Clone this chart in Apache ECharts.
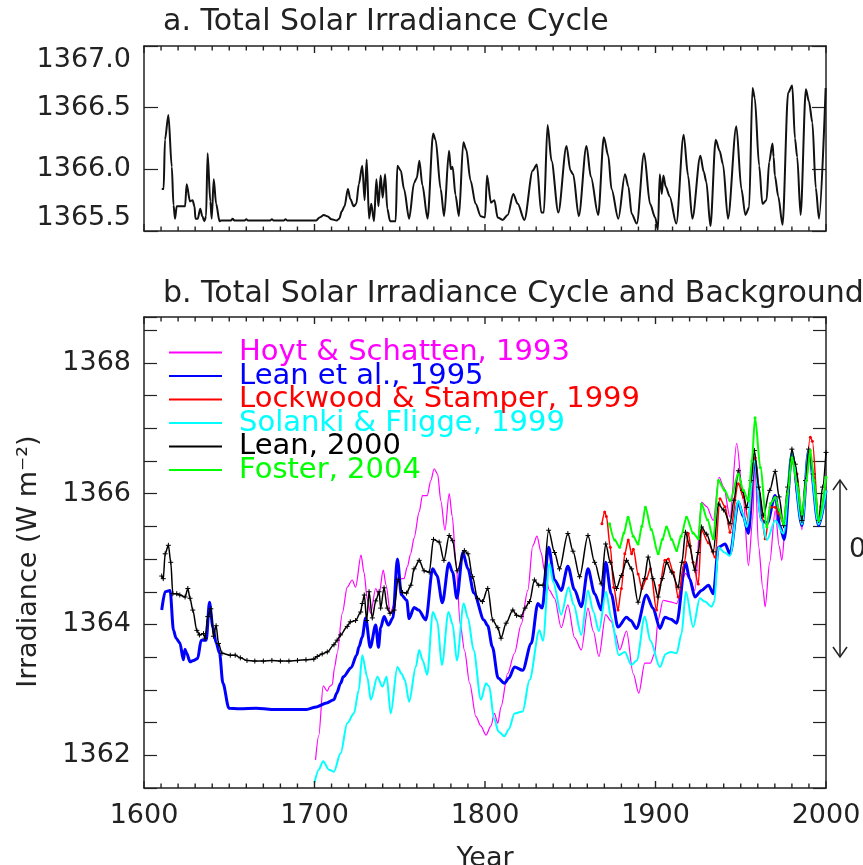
<!DOCTYPE html>
<html>
<head>
<meta charset="utf-8">
<script src="https://cdn.jsdelivr.net/npm/echarts@6/dist/echarts.min.js"></script>
<style>html,body{margin:0;padding:0;background:#fff}#c{width:863px;height:865px}</style>
</head>
<body>
<div id="c"></div>
<script>
// ---------- DATA ----------
const xTicks = [1600, 1700, 1800, 1900, 2000];
const topTicks = [1365.5, 1366.0, 1366.5, 1367.0];
const bottomTickLabels = [1362, 1364, 1366, 1368];
const seriesNames = ['Hoyt & Schatten, 1993', 'Lean et al., 1995', 'Lockwood & Stamper, 1999', 'Solanki & Fligge, 1999', 'Lean, 2000', 'Foster, 2004'];

// Panel a: total solar irradiance cycle [year, W m-2]
const tsiCycle = [[1610.4,1365.84],[1611.5,1365.84],[1612.3,1366.24],[1614.3,1366.44],[1616.3,1366.02],[1617.3,1365.71],[1618.2,1365.60],[1619.2,1365.70],[1624.1,1365.70],[1625,1365.88],[1627,1365.74],[1628.5,1365.75],[1629.6,1365.70],[1630.2,1365.60],[1631.5,1365.60],[1633,1365.68],[1634.2,1365.62],[1635.4,1365.58],[1636.4,1365.62],[1637.3,1366.13],[1638.9,1365.74],[1639.7,1365.60],[1640.9,1365.92],[1642.3,1365.72],[1644.3,1365.58],[1645,1365.585],[1651,1365.585],[1652,1365.60],[1653,1365.585],[1659,1365.585],[1660,1365.595],[1661,1365.585],[1674,1365.585],[1675,1365.595],[1676,1365.585],[1682,1365.585],[1683,1365.595],[1684,1365.585],[1701,1365.585],[1703,1365.61],[1705.5,1365.63],[1707.5,1365.62],[1710,1365.595],[1713,1365.585],[1714.5,1365.60],[1716,1365.66],[1717.6,1365.70],[1719.6,1365.84],[1721,1365.76],[1723,1365.70],[1724.5,1365.72],[1726,1365.88],[1728,1366.03],[1729.4,1365.75],[1730.6,1366.08],[1732,1365.60],[1733.3,1365.72],[1734.9,1365.58],[1736.3,1365.92],[1737.5,1365.70],[1738.8,1365.95],[1740,1365.77],[1741.4,1365.96],[1742.7,1365.68],[1744.3,1365.58],[1747.6,1365.58],[1748.6,1366.03],[1750.6,1365.99],[1752.5,1365.84],[1755.5,1365.60],[1758.4,1365.89],[1760,1365.93],[1761.5,1366.07],[1763.3,1365.87],[1766.3,1365.60],[1769.6,1366.29],[1771,1366.24],[1774,1365.84],[1776,1365.62],[1778.9,1366.15],[1780,1366.00],[1781,1366.02],[1782.7,1365.79],[1784.7,1365.62],[1787.3,1366.22],[1789,1366.16],[1791.5,1365.91],[1794.5,1365.72],[1797.5,1365.62],[1800,1365.61],[1801.2,1365.95],[1803.5,1365.73],[1805.5,1365.75],[1807.4,1365.61],[1810.4,1365.59],[1813.3,1365.63],[1816.6,1365.80],[1819.2,1365.72],[1823.1,1365.59],[1828,1365.99],[1830.4,1366.04],[1833,1365.65],[1834.5,1365.65],[1836.7,1366.36],[1839,1366.07],[1843,1365.65],[1847.8,1366.19],[1850.1,1365.99],[1851.7,1365.96],[1855,1365.62],[1859.5,1366.19],[1862.1,1365.94],[1866.4,1365.63],[1869.7,1366.26],[1872.3,1366.11],[1874.2,1365.84],[1878.2,1365.60],[1882.1,1365.96],[1884.1,1365.86],[1886,1365.64],[1889,1365.56],[1893.3,1366.13],[1896.8,1365.72],[1899.8,1365.61],[1901.4,1365.51],[1902.5,1365.96],[1903.7,1365.80],[1904.6,1365.95],[1906,1365.86],[1908.3,1365.78],[1912.2,1365.56],[1916.5,1366.28],[1919.1,1365.95],[1921.6,1365.60],[1926.3,1366.11],[1928.3,1365.98],[1929.8,1365.90],[1932.2,1365.54],[1935.3,1366.24],[1937.6,1366.15],[1939.6,1366.04],[1942.5,1365.60],[1947.4,1366.35],[1950.4,1365.84],[1952.7,1365.63],[1954.9,1365.69],[1956.9,1366.66],[1958.2,1366.58],[1960.8,1366.03],[1962.7,1365.72],[1965.1,1365.75],[1966.7,1366.06],[1968.6,1366.21],[1969.3,1366.10],[1970,1365.95],[1972,1365.78],[1974.5,1365.55],[1977.8,1366.62],[1980.2,1366.68],[1981.8,1366.25],[1983.1,1366.10],[1985.1,1365.63],[1988.2,1366.65],[1990,1366.55],[1992,1366.38],[1994,1365.85],[1995.9,1365.60],[1999.8,1366.66]];

// Panel b reconstructions [year, W m-2]
const hoyt1993 = [[1700.6,1361.93],[1702.5,1362.30],[1705.1,1363.06],[1707.5,1362.98],[1708.8,1363.05],[1710.4,1363.08],[1711.8,1363.35],[1713.3,1363.56],[1716.3,1364.17],[1719.2,1364.57],[1722.1,1364.68],[1724.1,1364.57],[1727.3,1365.06],[1729,1364.80],[1731,1364.38],[1732.9,1364.17],[1735.9,1364.55],[1737.8,1364.45],[1740.3,1364.83],[1742,1364.60],[1744.5,1364.16],[1746.5,1364.30],[1748.6,1364.90],[1750.5,1364.70],[1752.5,1364.70],[1754.4,1364.88],[1756.4,1365.08],[1758.4,1365.32],[1761.4,1365.72],[1763.3,1365.97],[1766.1,1365.97],[1768.2,1366.20],[1770.2,1366.38],[1772.2,1366.30],[1774.1,1365.89],[1776.5,1365.44],[1779,1366.00],[1780.8,1365.65],[1782.9,1364.98],[1785.5,1364.00],[1788,1363.60],[1791,1363.10],[1794.7,1362.59],[1797.5,1362.45],[1800.6,1362.31],[1803.5,1362.45],[1805.5,1362.64],[1807.5,1362.49],[1809.4,1362.74],[1813.3,1363.25],[1817.3,1363.56],[1821.2,1364.00],[1825.1,1364.52],[1828,1365.20],[1830.5,1365.35],[1832.9,1365.10],[1834.9,1364.83],[1837.8,1364.52],[1840.8,1364.40],[1844.7,1363.95],[1848.6,1364.30],[1852.5,1363.80],[1856.5,1363.61],[1860.4,1364.25],[1863.5,1363.90],[1866.8,1363.51],[1870.8,1364.15],[1874,1364.05],[1876.5,1363.85],[1879,1363.61],[1883,1363.90],[1886.9,1363.25],[1890.2,1362.95],[1893.7,1363.41],[1897,1363.41],[1899.6,1363.56],[1901.5,1364.07],[1904.5,1364.37],[1908,1364.35],[1912.4,1364.32],[1917.6,1364.78],[1920,1364.70],[1923.1,1364.52],[1927,1365.87],[1930,1365.80],[1933.9,1365.59],[1937.3,1366.25],[1940,1366.10],[1943.7,1365.64],[1947.6,1366.77],[1951.5,1365.90],[1954.5,1364.90],[1957,1365.60],[1958.3,1366.53],[1960.4,1365.20],[1963,1364.55],[1964.3,1364.27],[1967,1364.95],[1970.2,1365.74],[1972.5,1365.20],[1974.1,1364.98],[1976.5,1365.60],[1980.5,1366.62],[1983,1365.95],[1985.9,1365.45],[1989.8,1366.70],[1992,1366.20]];

const lean1995 = [[1610.4,1364.22],[1612.4,1364.50],[1615.3,1364.52],[1617.3,1363.91],[1618.8,1363.79],[1621,1363.72],[1623.1,1363.46],[1624,1363.62],[1625,1363.56],[1627,1363.43],[1629,1363.45],[1631.5,1363.48],[1633.5,1363.76],[1636.5,1363.76],[1638.4,1364.34],[1640.4,1363.96],[1642.3,1363.72],[1644.3,1363.56],[1646.3,1363.10],[1649.8,1362.72],[1656.1,1362.71],[1665.9,1362.72],[1675,1362.70],[1685.5,1362.70],[1695.3,1362.70],[1701.2,1362.74],[1707.1,1362.80],[1711.4,1362.85],[1713,1362.95],[1715.3,1363.10],[1716.9,1363.20],[1721.5,1363.34],[1724.7,1363.53],[1726.1,1363.66],[1728,1363.81],[1730,1364.10],[1732.7,1363.65],[1735.9,1363.99],[1737.5,1363.65],[1738.8,1363.95],[1740.8,1364.12],[1743.3,1363.99],[1746,1364.10],[1748.6,1365.00],[1751,1364.45],[1754.1,1364.37],[1755.5,1364.09],[1758.4,1364.26],[1761,1364.22],[1765.3,1364.07],[1769.3,1364.85],[1771.8,1364.75],[1775,1364.33],[1778.8,1364.94],[1781,1364.80],[1783.5,1364.40],[1787,1365.10],[1790,1364.85],[1793.5,1364.48],[1799.4,1364.07],[1801.6,1363.98],[1804.3,1363.66],[1807.7,1363.18],[1811.4,1363.10],[1814,1363.18],[1817.3,1363.35],[1822.1,1363.30],[1827.1,1363.71],[1831,1364.32],[1833.5,1364.25],[1837.3,1365.18],[1840.8,1364.68],[1844.7,1364.52],[1848.6,1364.89],[1852.5,1364.53],[1856.5,1364.27],[1860.4,1364.85],[1864.3,1364.47],[1868.2,1364.22],[1870.8,1364.95],[1874,1364.47],[1878,1363.96],[1883,1364.11],[1885.5,1364.06],[1888.8,1363.94],[1894.7,1364.45],[1898.5,1364.25],[1902.6,1363.94],[1905.5,1364.11],[1909,1364.08],[1912.4,1364.02],[1917.6,1364.95],[1920,1364.70],[1923.1,1364.42],[1927,1364.52],[1931.1,1364.60],[1933.9,1364.47],[1936.9,1365.18],[1940.8,1365.23],[1943.7,1365.08],[1948.6,1365.87],[1951.5,1365.65],[1954.5,1365.39],[1958,1366.53],[1962.4,1365.59],[1965.5,1365.55],[1970.2,1365.97],[1973,1365.50],[1975.5,1365.30],[1980,1366.61],[1985.9,1365.51],[1989.8,1366.66],[1995.7,1365.51],[2000,1366.05]];

const lockwood1999 = [[1868.6,1365.54],[1870.2,1365.72],[1871.2,1365.65],[1873.5,1365.18],[1875.5,1364.57],[1878,1364.22],[1880,1364.55],[1882,1365.08],[1884,1365.29],[1886,1365.08],[1887,1365.15],[1889.8,1364.77],[1892,1364.55],[1894.7,1364.70],[1897,1364.85],[1900.6,1364.22],[1902.5,1364.60],[1905.5,1364.98],[1907.5,1365.00],[1910.5,1364.80],[1913.3,1364.42],[1917,1364.95],[1919.2,1365.39],[1922,1364.95],[1925.1,1364.62],[1927,1365.44],[1931,1365.25],[1934.9,1365.03],[1937.8,1365.92],[1940.8,1365.80],[1943.7,1365.41],[1948.6,1366.15],[1951.5,1365.95],[1954.5,1365.59],[1958.4,1366.55],[1961,1366.00],[1964.3,1365.31],[1967.3,1365.79],[1970.2,1365.79],[1972,1365.70],[1975.1,1365.54],[1980,1366.50],[1983,1366.30],[1985.9,1365.58],[1990.8,1366.86],[1992,1366.80],[1995.7,1365.58],[1997,1365.80]];

const solanki1999 = [[1700,1361.58],[1702.5,1361.78],[1705.1,1361.91],[1708.4,1361.78],[1711.4,1361.75],[1715.3,1362.03],[1719.2,1362.49],[1723.1,1362.64],[1726,1363.00],[1728,1363.53],[1731,1363.19],[1733,1362.85],[1736.9,1363.20],[1739.8,1363.05],[1742.3,1363.20],[1744.7,1362.64],[1748.6,1363.35],[1751,1363.25],[1753,1363.15],[1755.5,1362.82],[1759.4,1363.35],[1761.4,1363.61],[1763.5,1363.45],[1766.1,1363.23],[1769.4,1364.19],[1772,1364.05],[1774.7,1363.38],[1778.6,1364.19],[1781,1364.00],[1783.5,1363.45],[1787.5,1364.32],[1790,1364.10],[1793.3,1363.61],[1797.6,1362.85],[1800.6,1363.10],[1802.5,1363.05],[1805.3,1362.56],[1808,1362.36],[1811.4,1362.29],[1814,1362.40],[1817.3,1362.64],[1822.1,1362.67],[1826.1,1363.15],[1831.9,1363.91],[1834,1363.75],[1837.8,1364.93],[1840,1364.65],[1844.7,1364.15],[1849,1364.57],[1852,1364.30],[1856.5,1363.84],[1860.4,1364.52],[1863.5,1364.20],[1866.8,1363.90],[1871,1364.50],[1874,1364.10],[1878.5,1363.53],[1882,1363.58],[1885.9,1363.38],[1889,1363.45],[1893.7,1364.12],[1897,1363.75],[1902.6,1363.35],[1906,1363.55],[1909,1363.58],[1912.4,1363.56],[1915.3,1363.86],[1917.8,1364.50],[1922.1,1363.96],[1926,1364.40],[1929,1364.35],[1932.9,1364.27],[1934.5,1364.35],[1936.9,1365.18],[1940.5,1365.10],[1943.7,1365.05],[1948.6,1365.89],[1951,1365.70],[1953.5,1365.49],[1958,1366.50],[1962,1365.60],[1965.3,1365.29],[1970.2,1365.59],[1975.1,1365.39],[1980,1366.63],[1985.9,1365.53],[1989.8,1366.66],[1995.7,1365.53],[2000,1366.05]];

const lean2000 = [[1610.4,1364.74],[1611.3,1364.70],[1612.4,1365.08],[1614.3,1365.21],[1615.7,1364.95],[1616.9,1364.47],[1619.2,1364.47],[1621,1364.45],[1624.1,1364.42],[1625.7,1364.55],[1627,1364.40],[1628.6,1364.22],[1631,1363.91],[1632.5,1363.84],[1634.9,1363.86],[1635.8,1363.79],[1637.4,1364.12],[1639.2,1364.24],[1640.7,1363.82],[1642.3,1363.98],[1643.7,1363.71],[1645.7,1363.56],[1650.6,1363.53],[1653.5,1363.53],[1656.5,1363.49],[1660.4,1363.45],[1665,1363.44],[1670,1363.44],[1675,1363.45],[1680,1363.44],[1685,1363.44],[1690,1363.45],[1695,1363.46],[1699.6,1363.47],[1701.6,1363.51],[1704.5,1363.55],[1707.5,1363.58],[1711.4,1363.69],[1713.3,1363.76],[1715.3,1363.84],[1719.2,1363.97],[1721,1364.04],[1724.1,1364.06],[1727.1,1364.19],[1728,1364.32],[1729.2,1364.45],[1730.6,1364.06],[1732,1364.50],[1733.9,1364.10],[1735.9,1364.36],[1737.9,1364.50],[1738.8,1364.25],[1740.8,1364.56],[1742.7,1364.25],[1744.3,1364.17],[1746.7,1364.22],[1749,1364.69],[1751.6,1364.49],[1754,1364.48],[1756.5,1364.60],[1758.4,1364.85],[1761.4,1364.98],[1764.3,1364.82],[1767.3,1364.80],[1769.8,1365.30],[1773.1,1365.26],[1775.9,1364.98],[1779,1365.36],[1781,1365.28],[1783.7,1364.82],[1787.9,1365.13],[1790,1365.08],[1792.7,1364.73],[1795.6,1364.40],[1798.5,1364.35],[1801.6,1364.55],[1804.5,1364.07],[1807.5,1363.95],[1809.4,1363.79],[1812.4,1364.02],[1816.3,1364.22],[1818.5,1364.14],[1821.2,1364.12],[1823.5,1364.25],[1826.1,1364.35],[1829,1364.68],[1831.5,1364.60],[1834,1364.60],[1837.3,1365.44],[1840.8,1365.10],[1843.7,1364.85],[1848.6,1365.39],[1851.6,1365.12],[1855.5,1364.73],[1860.4,1365.36],[1864.3,1364.95],[1868.2,1364.62],[1870.8,1365.23],[1873.5,1364.95],[1877.1,1364.55],[1880,1364.75],[1883,1364.98],[1886,1364.85],[1889.8,1364.34],[1893.5,1364.70],[1895.7,1365.03],[1898.5,1364.70],[1901.5,1364.42],[1904,1364.70],[1906.5,1364.95],[1909.5,1364.80],[1913.3,1364.57],[1915.5,1364.95],[1917.6,1365.41],[1920,1365.20],[1923.1,1364.83],[1925,1365.10],[1927,1365.49],[1930,1365.38],[1933.9,1365.11],[1936.9,1365.84],[1940,1365.75],[1943.7,1365.54],[1946,1365.90],[1948.6,1366.35],[1951,1366.05],[1953.5,1365.79],[1956,1366.20],[1958,1366.66],[1960.5,1366.10],[1963.3,1365.67],[1967,1366.05],[1970.2,1366.34],[1972.5,1365.95],[1975.1,1365.51],[1977.5,1366.10],[1980,1366.68],[1982,1366.45],[1985.9,1365.59],[1988,1366.20],[1989.8,1366.68],[1992.5,1366.30],[1995.7,1365.59],[1998,1366.10],[2000,1366.63]];

const foster2004 = [[1873.1,1365.54],[1876.1,1365.29],[1879,1365.18],[1881.5,1365.40],[1883.9,1365.64],[1886.9,1365.35],[1889.8,1365.23],[1892,1365.50],[1894.1,1365.79],[1897.5,1365.45],[1901.6,1365.08],[1904,1365.30],[1906.5,1365.49],[1909.5,1365.30],[1912.4,1365.13],[1915,1365.35],[1918.2,1365.64],[1922,1365.40],[1925.1,1365.31],[1927,1365.84],[1930.5,1365.60],[1933.9,1365.31],[1936.9,1366.20],[1940.5,1366.05],[1943.7,1365.89],[1948.6,1366.30],[1951.5,1366.05],[1954.5,1365.89],[1956.5,1366.50],[1958.4,1367.16],[1961.5,1366.40],[1965.3,1365.49],[1967.5,1365.85],[1970.2,1365.94],[1972.5,1365.75],[1975.1,1365.54],[1977.5,1366.00],[1980,1366.55],[1983,1366.15],[1985.9,1365.69],[1988.5,1366.20],[1990.8,1366.66],[1993,1366.20],[1995.7,1365.59],[2000,1366.25]];

// decade tick marks on the year axes (every 10 years, long at centuries)
const decadeTicks = [];
for (let y = 1610; y < 2000; y += 10) if (!xTicks.includes(y)) decadeTicks.push([y, 4.5]);
xTicks.forEach(y => decadeTicks.push([y, 7]));

// ---------- CHART ----------
const FONT = 'DejaVu Sans';
const AX = '#222';
const TOP_RANGE = [1365.5, 1367.0];
const BOT_RANGE = [1361.5, 1368.7];
const chart = echarts.init(document.getElementById('c'), null, {renderer: 'canvas'});

function xAxisDef(grid, pos, showLabels) {
  return {
    type: 'value', gridIndex: grid, position: pos, min: 1600, max: 2000, interval: 100,
    axisLine: {show: true, onZero: false, lineStyle: {color: AX, width: 1.5}},
    axisTick: {show: false},
    splitLine: {show: false},
    axisLabel: {show: showLabels, fontFamily: FONT, fontSize: 27, color: '#222', margin: 14,
      formatter: v => xTicks.includes(v) ? String(v) : ''},
  };
}
function yAxisDef(grid, pos, range, showLabels, fmt, len) {
  return {
    type: 'value', gridIndex: grid, position: pos, min: range[0], max: range[1], interval: 0.5,
    axisLine: {show: true, onZero: false, lineStyle: {color: AX, width: 1.5}},
    axisTick: {show: true, inside: true, length: len, lineStyle: {color: AX, width: 1.2}},
    splitLine: {show: false},
    axisLabel: {show: showLabels, fontFamily: FONT, fontSize: 27, color: '#222', margin: 13, formatter: fmt,
      showMinLabel: true, showMaxLabel: true},
  };
}

const topFmt = v => topTicks.some(t => Math.abs(t - v) < 1e-6) ? v.toFixed(1) : '';
const botFmt = v => bottomTickLabels.some(t => Math.abs(t - v) < 1e-6) ? String(Math.round(v)) : '';

const yTopLeft = yAxisDef(0, 'left', TOP_RANGE, true, topFmt, 14);
yTopLeft.axisLabel.verticalAlignMinLabel = 'bottom';
yTopLeft.axisLabel.verticalAlignMaxLabel = 'top';

const xBottom = xAxisDef(1, 'bottom', true);
xBottom.name = 'Year';
xBottom.nameLocation = 'middle';
xBottom.nameGap = 57;
xBottom.nameTextStyle = {fontFamily: FONT, fontSize: 27, color: '#222'};

const yBotLeft = yAxisDef(1, 'left', BOT_RANGE, true, botFmt, 13);
yBotLeft.name = 'Irradiance (W m\u207B\u00B2)';
yBotLeft.nameLocation = 'middle';
yBotLeft.nameGap = 102;
yBotLeft.nameRotate = 90;
yBotLeft.nameTextStyle = {fontFamily: FONT, fontSize: 27, color: '#222', padding: [0, 18, 0, 0]};

function tickSeries(xIdx, yIdx, range) {
  return {
    type: 'custom', xAxisIndex: xIdx, yAxisIndex: yIdx, data: decadeTicks, clip: false, silent: true, z: 10,
    encode: {x: 0},
    renderItem: (params, api) => {
      const yr = api.value(0), len = api.value(1);
      const pb = api.coord([yr, range[0]]);
      const pt = api.coord([yr, range[1]]);
      return {type: 'group', children: [
        {type: 'line', shape: {x1: pb[0], y1: pb[1], x2: pb[0], y2: pb[1] - len}, style: {stroke: AX, lineWidth: 1.4}},
        {type: 'line', shape: {x1: pt[0], y1: pt[1], x2: pt[0], y2: pt[1] + len}, style: {stroke: AX, lineWidth: 1.4}},
      ]};
    },
  };
}

const colors = ['#ff00ff', '#0000ff', '#ff0000', '#00ffff', '#000000', '#00ff00'];
const widths = [1.2, 3, 1.5, 2, 1.5, 2];
const datasets = [hoyt1993, lean1995, lockwood1999, solanki1999, lean2000, foster2004];
const symbols = ['none', 'none', 'circle', 'none', 'path://M0,5L10,5M5,0L5,10', 'circle'];
const symbolSizes = [0, 0, 3, 0, 5, 3];

const bottomSeries = datasets.map((d, i) => ({
  name: seriesNames[i], type: 'line', xAxisIndex: 2, yAxisIndex: 2, data: d,
  symbol: symbols[i], symbolSize: symbolSizes[i], showSymbol: symbols[i] !== 'none',
  smooth: 0.3, smoothMonotone: 'x',
  lineStyle: {color: colors[i], width: widths[i]},
  itemStyle: {color: colors[i], borderColor: colors[i], borderWidth: i === 4 ? 1 : 0},
  clip: true, silent: true, z: 2 + i,
}));

chart.setOption({
  animation: false,
  backgroundColor: '#fff',
  title: [
    {text: 'a. Total Solar Irradiance Cycle', left: 163, top: 7, padding: 0,
      textStyle: {fontFamily: FONT, fontSize: 30, fontWeight: 'normal', color: '#222'}},
    {text: 'b. Total Solar Irradiance Cycle and Background', left: 163, top: 279, padding: 0,
      textStyle: {fontFamily: FONT, fontSize: 30, fontWeight: 'normal', color: '#222'}},
  ],
  grid: [
    {left: 144, top: 46, width: 682, height: 185, containLabel: false, outerBoundsMode: 'none'},
    {left: 144, top: 317, width: 682, height: 471, containLabel: false, outerBoundsMode: 'none'},
  ],
  xAxis: [xAxisDef(0, 'bottom', false), xAxisDef(0, 'top', false), xBottom, xAxisDef(1, 'top', false)],
  yAxis: [yTopLeft, yAxisDef(0, 'right', TOP_RANGE, false, topFmt, 14),
          yBotLeft, yAxisDef(1, 'right', BOT_RANGE, false, botFmt, 13)],
  legend: {
    orient: 'vertical', left: 168, top: 338, padding: 0, itemWidth: 53, itemHeight: 14, itemGap: -5.5, itemTextGap: 18,
    selectedMode: false,
    textStyle: {fontFamily: FONT, fontSize: 29, padding: [0, 0, 0, 12]},
    data: seriesNames.map((n, i) => ({name: n, textStyle: {color: colors[i]}, itemStyle: {opacity: 0}})),
  },
  graphic: [
    {type: 'line', shape: {x1: 840, y1: 480, x2: 840, y2: 657}, style: {stroke: '#222', lineWidth: 1.5}},
    {type: 'polyline', shape: {points: [[833, 490], [840, 480], [847, 490]]}, style: {stroke: '#222', lineWidth: 1.5, fill: null}},
    {type: 'polyline', shape: {points: [[833, 647], [840, 657], [847, 647]]}, style: {stroke: '#222', lineWidth: 1.5, fill: null}},
    {type: 'text', left: 849, top: 536, style: {text: '0', font: '27px "DejaVu Sans"', fill: '#222'}},
  ],
  series: [
    {name: 'TSI cycle', type: 'line', xAxisIndex: 0, yAxisIndex: 0, data: tsiCycle, symbol: 'none',
      smooth: 0.3, smoothMonotone: 'x',
      lineStyle: {color: '#111', width: 2}, clip: true, silent: true},
    ...bottomSeries,
    tickSeries(0, 0, TOP_RANGE),
    tickSeries(2, 2, BOT_RANGE),
  ],
});
</script>
</body>
</html>
